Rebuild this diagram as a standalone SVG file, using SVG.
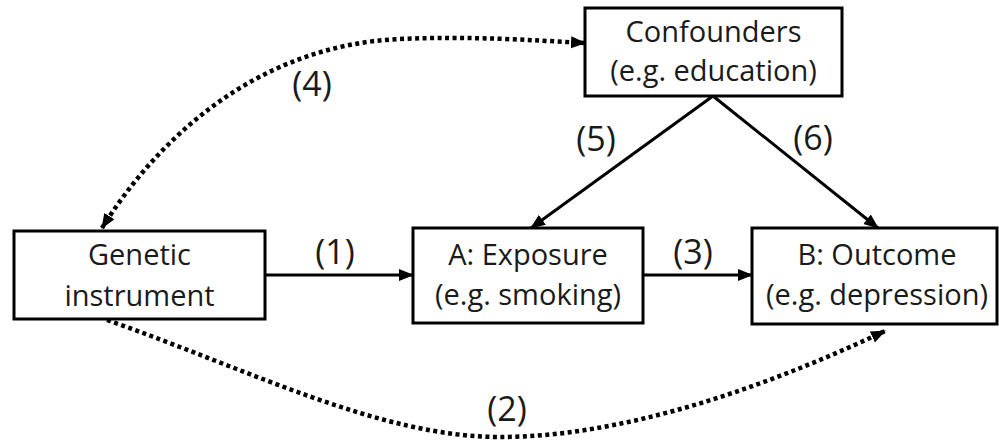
<svg xmlns="http://www.w3.org/2000/svg" width="999" height="441" viewBox="0 0 999 441">
<style>
.box{fill:#fff;stroke:#000;stroke-width:3}
.t{font-family:"Open Sans","Noto Sans",sans-serif;font-size:29px;fill:#1a1a1a;text-anchor:middle}
.lbl{font-family:"Open Sans","Noto Sans",sans-serif;font-size:34px;fill:#1a1a1a;text-anchor:middle}
.solid{fill:none;stroke:#000;stroke-width:3}
.dot{fill:none;stroke:#000;stroke-width:4.5;stroke-dasharray:4 3.5}
</style>
<defs>
<marker id="ah" markerUnits="userSpaceOnUse" markerWidth="16" markerHeight="14" refX="14" refY="7" orient="auto-start-reverse" viewBox="0 0 16 14">
<path d="M0,1 L15,7 L0,13 z" fill="#000"/>
</marker>
</defs>
<rect width="999" height="441" fill="#fff"/>
<g id="connectors">
<path class="solid" d="M265,275 L413,275" marker-end="url(#ah)"/>
<path class="solid" d="M643,275 L752,275" marker-end="url(#ah)"/>
<path class="solid" d="M713,96 L531,228" marker-end="url(#ah)"/>
<path class="solid" d="M713,96 L878,228" marker-end="url(#ah)"/>
<path class="dot" d="M102,228 C160,135 260,45 400,39 C470,36 530,40 585,43" marker-start="url(#ah)" marker-end="url(#ah)"/>
<path class="dot" d="M107,320 C250,370 380,437 500,437 C620,437 760,390 885,331" marker-end="url(#ah)"/>
<text class="lbl" x="335" y="264">(1)</text>
<text class="lbl" x="507" y="421">(2)</text>
<text class="lbl" x="693" y="264">(3)</text>
<text class="lbl" x="312" y="96">(4)</text>
<text class="lbl" x="596" y="151">(5)</text>
<text class="lbl" x="813" y="150">(6)</text>
</g>
<g id="genetic">
<rect class="box" x="14" y="231" width="251" height="88"/>
<text class="t" x="139.5" y="265">Genetic</text>
<text class="t" x="139.5" y="306">instrument</text>
</g>
<g id="exposure">
<rect class="box" x="413" y="228" width="230" height="95"/>
<text class="t" x="528" y="265">A: Exposure</text>
<text class="t" x="528" y="305">(e.g. smoking)</text>
</g>
<g id="outcome">
<rect class="box" x="752" y="228" width="245" height="96"/>
<text class="t" x="877" y="265">B: Outcome</text>
<text class="t" x="877" y="305">(e.g. depression)</text>
</g>
<g id="confounders">
<rect class="box" x="585" y="8" width="257" height="88"/>
<text class="t" x="713.5" y="42">Confounders</text>
<text class="t" x="713.5" y="81">(e.g. education)</text>
</g>
</svg>
